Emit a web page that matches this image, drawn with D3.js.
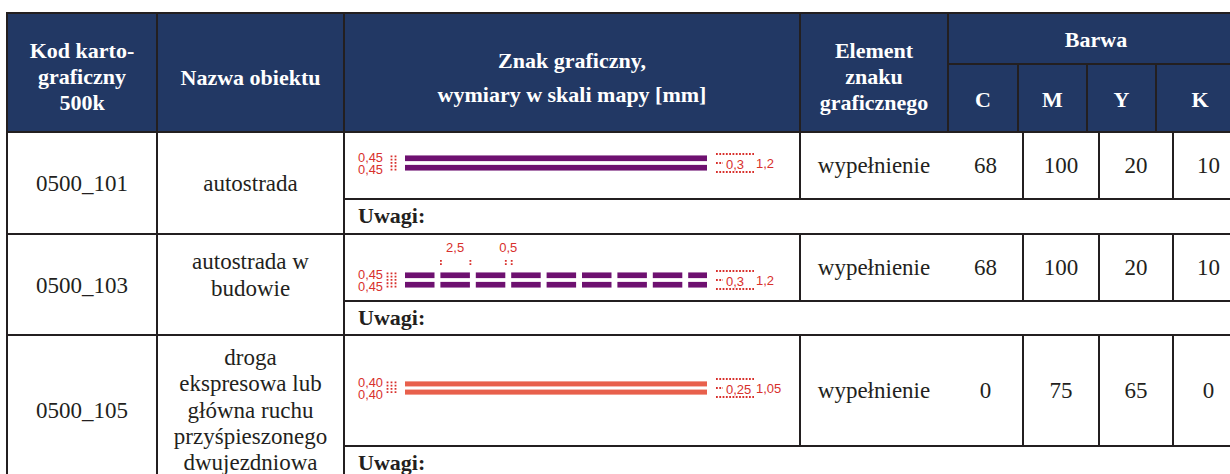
<!DOCTYPE html>
<html>
<head>
<meta charset="utf-8">
<script src="https://cdn.jsdelivr.net/npm/d3@7"></script>
<style>
  html, body { margin: 0; padding: 0; background: #ffffff; }
  svg { display: block; }
</style>
</head>
<body>
<div id="chart"></div>
<script>
// ---------------- DATA ----------------
const headerKod = ["Kod karto-", "graficzny", "500k"];
const headerNazwa = ["Nazwa obiektu"];
const headerZnak = ["Znak graficzny,", "wymiary w skali mapy [mm]"];
const headerElement = ["Element", "znaku", "graficznego"];
const headerBarwa = "Barwa";
const cmykLabels = ["C", "M", "Y", "K"];

const codes = ["0500_101", "0500_103", "0500_105"];
const names = [
  ["autostrada"],
  ["autostrada w", "budowie"],
  ["droga", "ekspresowa lub", "główna ruchu", "przyśpieszonego", "dwujezdniowa"]
];
const elements = ["wypełnienie", "wypełnienie", "wypełnienie"];
const valuesC = [68, 68, 0];
const valuesM = [100, 100, 75];
const valuesY = [20, 20, 65];
const valuesK = [10, 10, 0];
const uwagiLabel = "Uwagi:";

// symbol dimensions [mm]
const lineWidthMm = [0.45, 0.45, 0.40];
const lineGapMm = [0.3, 0.3, 0.25];
const totalWidthMm = [1.2, 1.2, 1.05];
const dashMm = [null, 2.5, null];
const dashGapMm = [null, 0.5, null];
const lineWidthLabels = ["0,45", "0,45", "0,40"];
const gapLabels = ["0,3", "0,3", "0,25"];
const totalLabels = ["1,2", "1,2", "1,05"];
const dashLabel = "2,5";
const dashGapLabel = "0,5";

// ---------------- STYLE / LAYOUT ----------------
const W = 1230, H = 474;
const navy = "#223864";
const ink = "#231f20";
const red = "#d8302c";
const symbolColors = ["#6e1170", "#6e1170", "#e8604c"];
const serif = "'Liberation Serif', 'Times New Roman', serif";
const sans = "'Liberation Sans', Arial, sans-serif";

const colX = [7, 157, 344, 800, 948];          // Kod | Nazwa | Znak | Element | Barwa
const tableRight = 1244;
const headCmykX = [948, 1018, 1087, 1156, tableRight];
const bodyCmykX = [948, 1023, 1099, 1173, tableRight];
const headTop = 13, headSplit = 64, headBottom = 132;
const rowTops = [132, 234, 335];
const uwagiTops = [199, 301, 446];
const rowBottoms = [234, 335, 484];
const nameShift = [0, -10, 0];

const svg = d3.select("#chart").append("svg")
  .attr("width", W).attr("height", H)
  .attr("viewBox", `0 0 ${W} ${H}`);

// ---------- header ----------
const head = svg.append("g");
head.append("rect").attr("x", colX[0]).attr("y", headTop)
  .attr("width", tableRight - colX[0]).attr("height", headBottom - headTop)
  .attr("fill", navy);

function headText(lines, cx, baselines, size) {
  head.selectAll(null).data(lines).enter().append("text")
    .attr("x", cx).attr("y", (d, i) => baselines[i])
    .attr("text-anchor", "middle")
    .attr("font-family", serif).attr("font-weight", "bold")
    .attr("font-size", size).attr("fill", "#ffffff")
    .text(d => d);
}
headText(headerKod, (colX[0] + colX[1]) / 2, [58, 84, 110], 22);
headText(headerNazwa, (colX[1] + colX[2]) / 2, [85], 22);
headText(headerZnak, (colX[2] + colX[3]) / 2, [68, 102], 22);
headText(headerElement, (colX[3] + colX[4]) / 2, [58, 84, 110], 22);
headText([headerBarwa], (colX[4] + tableRight) / 2, [47], 22);
cmykLabels.forEach((c, i) => {
  headText([c], (headCmykX[i] + headCmykX[i + 1]) / 2, [107], 22);
});

// ---------- body ----------
const body = svg.append("g");
const lines = svg.append("g").attr("stroke", ink).attr("stroke-width", 2).attr("fill", "none");

function bodyText(g, str, x, y, opts = {}) {
  g.append("text").attr("x", x).attr("y", y)
    .attr("text-anchor", opts.anchor || "middle")
    .attr("font-family", opts.family || serif)
    .attr("font-weight", opts.weight || "normal")
    .attr("font-size", opts.size || 23)
    .attr("fill", opts.fill || ink)
    .text(str);
}

const kx = 11.8;   // px per mm horizontally
const ky = 12.6;   // px per mm vertically
const symX0 = 405, symX1 = 707;
const smallSize = 13;

codes.forEach((code, i) => {
  const top = rowTops[i], mid = uwagiTops[i], bot = rowBottoms[i];
  const rowCenter = (top + bot) / 2;
  const mainCenter = (top + mid) / 2;

  // Kod
  bodyText(body, code, (colX[0] + colX[1]) / 2, rowCenter + 8);
  // Nazwa
  const nl = names[i];
  const lh = 26.3;
  nl.forEach((t, j) => {
    bodyText(body, t, (colX[1] + colX[2]) / 2,
      rowCenter + 8 + (j - (nl.length - 1) / 2) * lh + nameShift[i]);
  });
  // Element
  bodyText(body, elements[i], (colX[3] + colX[4]) / 2, mainCenter + 7.5);
  // CMYK
  [valuesC[i], valuesM[i], valuesY[i], valuesK[i]].forEach((v, j) => {
    bodyText(body, v, (bodyCmykX[j] + bodyCmykX[j + 1]) / 2, mainCenter + 7.5);
  });
  // Uwagi
  bodyText(body, uwagiLabel, 358, mid + 23.5, { anchor: "start", weight: "bold", size: 22 });

  // ---- symbol ----
  const sg = body.append("g");
  const cy = mainCenter + (dashMm[i] ? 12.5 : -2.5);
  const tot = totalWidthMm[i], lw = lineWidthMm[i], gp = lineGapMm[i];
  const sy = d3.scaleLinear().domain([0, tot]).range([cy - tot * ky / 2, cy + tot * ky / 2]);
  const sx = d3.scaleLinear().domain([0, 1]).range([0, kx]);
  const col = symbolColors[i];
  const bands = [[0, lw], [lw + gp, tot]];

  let segs;
  if (dashMm[i]) {
    const period = sx(dashMm[i] + dashGapMm[i]);
    segs = d3.range(symX0, symX1, period).map(x => [x, Math.min(x + sx(dashMm[i]), symX1)]);
  } else {
    segs = [[symX0, symX1]];
  }
  segs.forEach(s => {
    bands.forEach(b => {
      sg.append("rect").attr("x", s[0]).attr("y", sy(b[0]))
        .attr("width", s[1] - s[0]).attr("height", sy(b[1]) - sy(b[0]))
        .attr("fill", col);
    });
  });

  // left labels
  [-6, 6].forEach(dy => {
    sg.append("text").attr("x", 383).attr("y", cy + dy)
      .attr("dominant-baseline", "central").attr("text-anchor", "end")
      .attr("font-family", sans).attr("font-size", smallSize).attr("fill", red)
      .attr("textLength", 25).attr("lengthAdjust", "spacingAndGlyphs")
      .text(lineWidthLabels[i]);
  });
  // left dotted marker
  const dotCols = dashMm[i] || i === 2 ? [387.5, 391.5, 395.5] : [391.5, 395.5];
  dotCols.forEach(x => {
    sg.append("line").attr("x1", x).attr("x2", x)
      .attr("y1", sy(0)).attr("y2", sy(tot))
      .attr("stroke", red).attr("stroke-width", 1.8).attr("stroke-dasharray", "1.8,1.5");
  });

  // right dotted box
  const bx0 = symX1 + 9, bx1 = bx0 + 38;
  [cy - 9, cy + 9].forEach(y => {
    sg.append("line").attr("x1", bx0).attr("x2", bx1).attr("y1", y).attr("y2", y)
      .attr("stroke", red).attr("stroke-width", 1.8).attr("stroke-dasharray", "1.8,1.5");
  });
  sg.append("line").attr("x1", bx0).attr("x2", bx0 + 7).attr("y1", cy).attr("y2", cy)
    .attr("stroke", red).attr("stroke-width", 1.8).attr("stroke-dasharray", "1.8,1.5");
  sg.append("text").attr("x", bx0 + 10).attr("y", cy + 1)
    .attr("dominant-baseline", "central")
    .attr("font-family", sans).attr("font-size", smallSize).attr("fill", red)
    .text(gapLabels[i]);
  sg.append("text").attr("x", bx1 + 2).attr("y", cy)
    .attr("dominant-baseline", "central")
    .attr("font-family", sans).attr("font-size", smallSize).attr("fill", red)
    .text(totalLabels[i]);

  // dash annotations
  if (dashMm[i]) {
    const d2 = segs[1], d3s = segs[2], d4 = segs[3];
    const ticks = [d2[0], d2[1], d3s[1], d4[0]];
    ticks.forEach(x => {
      sg.append("line").attr("x1", x + 0.5).attr("x2", x + 0.5)
        .attr("y1", cy - 20).attr("y2", cy - 14)
        .attr("stroke", red).attr("stroke-width", 1.8).attr("stroke-dasharray", "1.8,1.5");
    });
    sg.append("text").attr("x", (d2[0] + d2[1]) / 2).attr("y", cy - 33)
      .attr("dominant-baseline", "central").attr("text-anchor", "middle")
      .attr("font-family", sans).attr("font-size", smallSize).attr("fill", red)
      .text(dashLabel);
    sg.append("text").attr("x", (d3s[1] + d4[0]) / 2).attr("y", cy - 33)
      .attr("dominant-baseline", "central").attr("text-anchor", "middle")
      .attr("font-family", sans).attr("font-size", smallSize).attr("fill", red)
      .text(dashGapLabel);
  }

  // ---- grid lines for this row ----
  lines.append("line").attr("x1", colX[0]).attr("x2", tableRight).attr("y1", bot).attr("y2", bot);
  lines.append("line").attr("x1", colX[2]).attr("x2", tableRight).attr("y1", mid).attr("y2", mid);
  [colX[0], colX[1], colX[2], tableRight].forEach(x => {
    lines.append("line").attr("x1", x).attr("x2", x).attr("y1", top).attr("y2", bot);
  });
  [colX[3], ...bodyCmykX.slice(1, 4)].forEach(x => {
    lines.append("line").attr("x1", x).attr("x2", x).attr("y1", top).attr("y2", mid);
  });
});

// header grid
lines.append("line").attr("x1", colX[0] - 1).attr("x2", tableRight).attr("y1", headTop).attr("y2", headTop);
lines.append("line").attr("x1", colX[0]).attr("x2", tableRight).attr("y1", headBottom).attr("y2", headBottom);
lines.append("line").attr("x1", colX[4]).attr("x2", tableRight).attr("y1", headSplit).attr("y2", headSplit);
[colX[0], colX[1], colX[2], colX[3], colX[4], tableRight].forEach(x => {
  lines.append("line").attr("x1", x).attr("x2", x).attr("y1", headTop).attr("y2", headBottom);
});
headCmykX.slice(1, 4).forEach(x => {
  lines.append("line").attr("x1", x).attr("x2", x).attr("y1", headSplit).attr("y2", headBottom);
});
</script>
</body>
</html>
